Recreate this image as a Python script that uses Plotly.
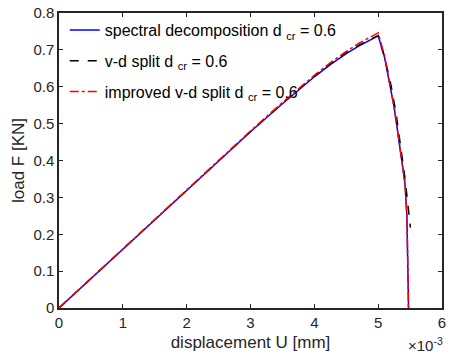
import plotly.graph_objects as go

# displacement in units of 1e-3 mm; converted to mm for plotting
u_blue = [0, 1, 2, 3, 3.5, 4, 4.25, 4.5, 4.7, 4.85, 4.95, 5.0, 5.1, 5.18, 5.25, 5.31, 5.37, 5.42, 5.45, 5.465, 5.47, 5.475]
f_blue = [0, 0.160, 0.320, 0.478, 0.554, 0.627, 0.660, 0.690, 0.711, 0.725, 0.734, 0.738, 0.680, 0.609, 0.545, 0.473, 0.405, 0.338, 0.250, 0.150, 0.06, 0.0]

u_black = [0, 1, 2, 3, 3.5, 4, 4.25, 4.5, 4.7, 4.85, 4.95, 5.0, 5.1, 5.2, 5.28, 5.35, 5.41, 5.46, 5.505]
f_black = [0, 0.160, 0.320, 0.479, 0.556, 0.629, 0.662, 0.692, 0.713, 0.727, 0.735, 0.739, 0.680, 0.605, 0.528, 0.445, 0.365, 0.290, 0.218]

u_red = [0, 1, 2, 3, 3.5, 4, 4.25, 4.5, 4.7, 4.85, 4.95, 5.0, 5.1, 5.18, 5.25, 5.31, 5.37, 5.42, 5.45, 5.465, 5.47, 5.475]
f_red = [0, 0.160, 0.321, 0.480, 0.557, 0.631, 0.665, 0.696, 0.718, 0.733, 0.742, 0.746, 0.684, 0.611, 0.545, 0.473, 0.405, 0.338, 0.250, 0.150, 0.06, 0.0]

x_ticks = [0, 1, 2, 3, 4, 5, 6]
y_ticks = [0, 0.1, 0.2, 0.3, 0.4, 0.5, 0.6, 0.7, 0.8]

FONT = "Liberation Sans, Arial"
scale = 1e-3
fig = go.Figure()
fig.add_trace(go.Scatter(x=[u * scale for u in u_blue], y=f_blue, mode="lines",
                         line=dict(color="#0000ff", width=1.5), legendgroup="a",
                         name="spectral decomposition d <sub>cr</sub> = 0.6"))
fig.add_trace(go.Scatter(x=[u * scale for u in u_black], y=f_black, mode="lines",
                         line=dict(color="#000000", width=1.5, dash="dash"), legendgroup="b",
                         name="v-d split d <sub>cr</sub> = 0.6"))
fig.add_trace(go.Scatter(x=[u * scale for u in u_red], y=f_red, mode="lines",
                         line=dict(color="#ff0000", width=1.5, dash="dashdot"), legendgroup="c",
                         name="improved v-d split d <sub>cr</sub> = 0.6"))

axis_common = dict(showgrid=False, zeroline=False, showline=True, linecolor="#262626",
                   linewidth=1.5, mirror="allticks", ticks="inside", ticklen=4,
                   tickcolor="#262626", tickwidth=1.2,
                   tickfont=dict(family=FONT, size=15, color="#262626"))

fig.update_layout(
    width=450, height=362,
    margin=dict(l=59, r=4, t=13, b=54),
    paper_bgcolor="white", plot_bgcolor="white",
    showlegend=True,
    legend=dict(x=0.015, y=1.0, xanchor="left", yanchor="top",
                bgcolor="rgba(255,255,255,0)", borderwidth=0,
                font=dict(family=FONT, size=16, color="#000000"),
                tracegroupgap=7, itemwidth=30),
    xaxis=dict(range=[0, 6 * scale], tickvals=[t * scale for t in x_ticks],
               ticktext=[str(t) for t in x_ticks],
               title=dict(text="displacement U [mm]", standoff=6,
                          font=dict(family=FONT, size=17, color="#262626")),
               **axis_common),
    yaxis=dict(range=[0, 0.8], tickvals=y_ticks,
               ticktext=["0", "0.1", "0.2", "0.3", "0.4", "0.5", "0.6", "0.7", "0.8"],
               title=dict(text="load F [KN]", standoff=4,
                          font=dict(family=FONT, size=17, color="#262626")),
               **axis_common),
)
fig.add_annotation(x=1.0, y=0, xref="paper", yref="paper", xanchor="right", yanchor="top",
                   yshift=-25, xshift=3, showarrow=False,
                   text="×10<sup>-3</sup>",
                   font=dict(family=FONT, size=15, color="#262626"))
fig.write_html("out.html")
